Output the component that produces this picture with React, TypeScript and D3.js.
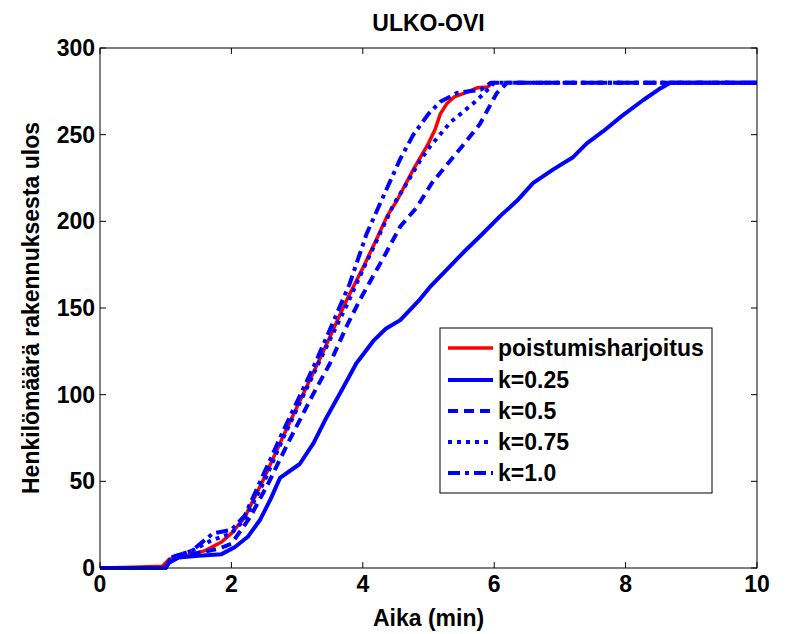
import React from "react";
import * as d3 from "d3";

const title = "ULKO-OVI";
const xLabel = "Aika (min)";
const yLabel = "Henkilömäärä rakennuksesta ulos";
const xTicks = [0, 2, 4, 6, 8, 10];
const yTicks = [0, 50, 100, 150, 200, 250, 300];

// poistumisharjoitus (measured)
const redT = [0, 0.5, 0.95, 1.05, 1.3, 1.6, 1.85, 2.0, 2.2, 2.5, 2.8, 3.1, 3.4, 3.76, 4.0, 4.2, 4.37, 4.52, 4.77, 5.0, 5.1, 5.18, 5.28, 5.4, 5.55, 5.74, 5.9, 5.98];
const redV = [0, 0.5, 1, 5, 7, 10, 15, 20, 29, 52, 77, 101, 125, 155, 173, 189, 203, 212, 230, 245, 253, 262, 268, 272, 274, 277, 277.5, 280];

// k=0.25
const k025T = [0, 0.98, 1.05, 1.2, 1.5, 1.85, 2.05, 2.25, 2.44, 2.6, 2.74, 3.04, 3.25, 3.45, 3.7, 3.9, 4.16, 4.35, 4.57, 4.87, 5.02, 5.3, 5.53, 5.8, 6.09, 6.35, 6.59, 6.9, 7.2, 7.41, 7.66, 7.95, 8.27, 8.5, 8.68, 10];
const k025V = [0, 0, 3, 6, 7, 8, 12, 18, 28, 40, 52, 60, 72, 87, 104, 118, 131, 138, 143, 155, 162, 173, 182, 192, 203, 212, 222, 230, 237, 245, 252, 261, 270, 276, 280, 280];

// k=0.5
const k05T = [0, 1.0, 1.08, 1.4, 1.8, 2.0, 2.28, 2.55, 2.86, 3.24, 3.5, 3.76, 3.96, 4.3, 4.57, 4.82, 5.05, 5.33, 5.55, 5.78, 6.04, 6.2, 10];
const k05V = [0, 0, 5, 8, 11, 14, 29, 48, 72, 100, 118, 140, 155, 178, 197, 208, 222, 235, 245, 256, 274, 280, 280];

// k=0.75
const k075T = [0, 1.0, 1.08, 1.4, 1.7, 2.0, 2.2, 2.5, 2.8, 3.1, 3.4, 3.76, 4.0, 4.2, 4.46, 4.7, 4.87, 5.02, 5.33, 5.68, 5.85, 6.0, 10];
const k075V = [0, 0, 6, 10, 16, 20, 28, 50, 76, 100, 124, 152, 172, 188, 209, 224, 235, 243, 257, 268, 274, 280, 280];

// k=1.0
const k10T = [0, 1.0, 1.08, 1.4, 1.72, 2.0, 2.2, 2.5, 2.8, 3.0, 3.25, 3.55, 3.8, 4.06, 4.26, 4.57, 4.77, 5.0, 5.18, 5.43, 5.8, 5.95, 10];
const k10V = [0, 0, 6, 10, 20, 22, 30, 55, 80, 96, 116, 142, 164, 193, 210, 236, 250, 262, 269, 274, 276, 280, 280];

const seriesNames = ["poistumisharjoitus", "k=0.25", "k=0.5", "k=0.75", "k=1.0"];

const W = 787, H = 634;
const L = 100, R = 757, T = 48, B = 568;
const FONT = "'Liberation Sans', Arial, sans-serif";
const FS = 23;

export default function App() {
  const x = d3.scaleLinear().domain([0, 10]).range([L, R]);
  const y = d3.scaleLinear().domain([0, 300]).range([B, T]);
  const line = d3.line<[number, number]>().x(d => x(d[0])).y(d => y(d[1]));
  const mk = (ts: number[], vs: number[]) => ts.map((t, i) => [t, vs[i]] as [number, number]);

  const series = [
    { name: seriesNames[0], data: mk(redT, redV), color: "#ff0000", dash: "none", w: 3.5 },
    { name: seriesNames[1], data: mk(k025T, k025V), color: "#0000ff", dash: "none", w: 4 },
    { name: seriesNames[2], data: mk(k05T, k05V), color: "#0000ff", dash: "10,6", w: 4 },
    { name: seriesNames[3], data: mk(k075T, k075V), color: "#0000ff", dash: "4,5", w: 4 },
    { name: seriesNames[4], data: mk(k10T, k10V), color: "#0000ff", dash: "12,5,4,5", w: 4 },
  ];

  const legX = 440, legY = 328, legW = 272, legH = 165;
  const rowY = [348, 380, 411, 442, 473];

  return (
    <svg width={W} height={H} style={{ position: "absolute", left: 0, top: 0, background: "#fff" }} fontFamily={FONT}>
      <rect x={0} y={0} width={W} height={H} fill="#fff" />
      <defs>
        <clipPath id="plotclip">
          <rect x={L} y={T - 4} width={R - L + 2} height={B - T + 6} />
        </clipPath>
      </defs>
      <rect x={L} y={T} width={R - L} height={B - T} fill="#fff" />
      <g clipPath="url(#plotclip)">
        {series.map(s => (
          <path key={s.name} d={line(s.data) || ""} fill="none" stroke={s.color} strokeWidth={s.w}
            strokeDasharray={s.dash} strokeLinejoin="round" />
        ))}
      </g>
      {/* frame and ticks */}
      <rect x={L} y={T} width={R - L} height={B - T} fill="none" stroke="#000" strokeWidth={1} />
      {xTicks.map(t => (
        <g key={"x" + t}>
          <line x1={x(t)} x2={x(t)} y1={B} y2={B - 6} stroke="#000" />
          <line x1={x(t)} x2={x(t)} y1={T} y2={T + 6} stroke="#000" />
          <text x={x(t)} y={592} textAnchor="middle" fontSize={FS} fontWeight="bold">{t}</text>
        </g>
      ))}
      {yTicks.map(t => (
        <g key={"y" + t}>
          <line x1={L} x2={L + 6} y1={y(t)} y2={y(t)} stroke="#000" />
          <line x1={R} x2={R - 6} y1={y(t)} y2={y(t)} stroke="#000" />
          <text x={95} y={y(t) + 8} textAnchor="end" fontSize={FS} fontWeight="bold">{t}</text>
        </g>
      ))}
      <text x={(L + R) / 2} y={31} textAnchor="middle" fontSize={FS} fontWeight="bold">{title}</text>
      <text x={(L + R) / 2} y={626} textAnchor="middle" fontSize={FS} fontWeight="bold">{xLabel}</text>
      <text transform={`translate(39,${(T + B) / 2}) rotate(-90)`} textAnchor="middle" fontSize={FS} fontWeight="bold">{yLabel}</text>
      {/* legend */}
      <rect x={legX} y={legY} width={legW} height={legH} fill="#fff" stroke="#000" strokeWidth={1} />
      {series.map((s, i) => (
        <g key={"leg" + s.name}>
          <line x1={448} x2={493} y1={rowY[i]} y2={rowY[i]} stroke={s.color} strokeWidth={s.w}
            strokeDasharray={s.dash} />
          <text x={498} y={rowY[i] + 8} fontSize={FS} fontWeight="bold">{s.name}</text>
        </g>
      ))}
    </svg>
  );
}
